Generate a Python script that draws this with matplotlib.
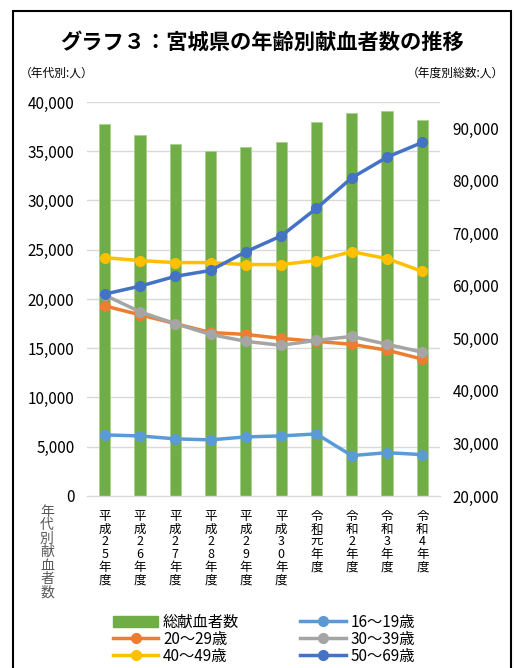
import matplotlib
matplotlib.use("Agg")
import matplotlib.pyplot as plt
from matplotlib.patches import Rectangle, Patch
from matplotlib.lines import Line2D
from matplotlib.ticker import FuncFormatter

plt.rcParams['font.family'] = ['Noto Sans CJK JP', 'DejaVu Sans']

# データ
years = ["平成25年度", "平成26年度", "平成27年度", "平成28年度", "平成29年度",
         "平成30年度", "令和元年度", "令和2年度", "令和3年度", "令和4年度"]
total = [90900, 88800, 87100, 85700, 86500, 87400, 91200, 93000, 93300, 91600]
age_16_19 = [6200, 6100, 5800, 5700, 6000, 6100, 6300, 4100, 4400, 4200]
age_20_29 = [19300, 18400, 17500, 16600, 16400, 16000, 15700, 15400, 14800, 13900]
age_30_39 = [20400, 18700, 17500, 16400, 15700, 15300, 15800, 16200, 15400, 14600]
age_40_49 = [24200, 23900, 23700, 23700, 23500, 23500, 23900, 24800, 24100, 22800]
age_50_69 = [20500, 21300, 22300, 22900, 24800, 26400, 29200, 32300, 34400, 35900]

series = [
    ("16～19歳", age_16_19, "#5B9BD5"),
    ("20～29歳", age_20_29, "#ED7D31"),
    ("30～39歳", age_30_39, "#A5A5A5"),
    ("40～49歳", age_40_49, "#FFC000"),
    ("50～69歳", age_50_69, "#4472C4"),
]
bar_color = "#70AD47"
grid_color = "#D9D9D9"

fig = plt.figure(figsize=(5.14, 6.68), dpi=100)

# 外枠
fig.patches.append(Rectangle((13 / 514, -0.01), (511 - 13) / 514, 1 - 11 / 668 + 0.01,
                             transform=fig.transFigure, fill=False,
                             edgecolor="black", linewidth=1.5))

ax = fig.add_axes([87 / 514, 1 - 496 / 668, (440 - 87) / 514, (496 - 102) / 668])
ax2 = ax.twinx()

x = list(range(len(years)))

# 総献血者数（第2軸）
ax2.bar(x, total, width=0.32, color=bar_color, edgecolor="#A9D18E", linewidth=0.6, zorder=2)
ax2.set_ylim(20000, 95000)
ax2.set_yticks(range(20000, 90001, 10000))

# 年代別（第1軸）
for label, vals, c in series:
    ax.plot(x, vals, color=c, linewidth=2.5, marker="o", markersize=7, zorder=3)

ax.set_zorder(ax2.get_zorder() + 1)
ax.patch.set_visible(False)

ax.set_ylim(0, 40000)
ax.set_yticks(range(0, 40001, 5000))
ax.set_xlim(-0.5, len(years) - 0.5)

fmt = FuncFormatter(lambda v, p: f"{int(v):,}")
ax.yaxis.set_major_formatter(fmt)
ax2.yaxis.set_major_formatter(fmt)

# グリッド線は第2軸の下に描く
for v in range(5000, 40001, 5000):
    ax2.axhline(20000 + v * 75000 / 40000, color=grid_color, linewidth=1, zorder=0)

for a in (ax, ax2):
    for s in a.spines.values():
        s.set_visible(False)
ax.spines["bottom"].set_visible(True)
ax.spines["bottom"].set_color(grid_color)
ax.spines["bottom"].set_linewidth(1)

ax.tick_params(axis="y", length=0, pad=9, labelsize=11)
ax2.tick_params(axis="y", length=0, pad=9, labelsize=11)
ax.set_xticks(x)
ax.set_xticklabels(["\n".join(y) for y in years], fontsize=9, linespacing=0.97,
                   va="top")
ax.tick_params(axis="x", length=0, pad=10)

# タイトル・単位
fig.text(0.51, 1 - 42 / 668, "グラフ３：宮城県の年齢別献血者数の推移",
         ha="center", va="center", fontsize=15.3, fontweight="bold")
fig.text(20 / 514, 1 - 73 / 668, "（年代別:人）", ha="left", va="center", fontsize=8.5)
fig.text(504 / 514, 1 - 73 / 668, "（年度別総数:人）", ha="right", va="center", fontsize=8.5)

# 縦書きの軸ラベル
fig.text(47 / 514, 1 - 505 / 668, "\n".join("年代別献血者数"), ha="center", va="top",
         fontsize=10, color="#595959", linespacing=0.95)

# 凡例
handles = [Patch(facecolor=bar_color, edgecolor=bar_color)]
labels = ["総献血者数"]
order = [1, 3, 0, 2, 4]
for i in order:
    lab, vals, c = series[i]
    handles.append(Line2D([0], [0], color=c, linewidth=2.5, marker="o", markersize=7))
    labels.append(lab)
fig.legend(handles, labels, loc="upper left", bbox_to_anchor=(105 / 514, 1 - 606 / 668),
           ncol=2, frameon=False, fontsize=11, handlelength=3, handletextpad=0.3,
           labelspacing=0.0, columnspacing=4, borderpad=0)

fig.savefig("out.png", dpi=100, facecolor="white")
